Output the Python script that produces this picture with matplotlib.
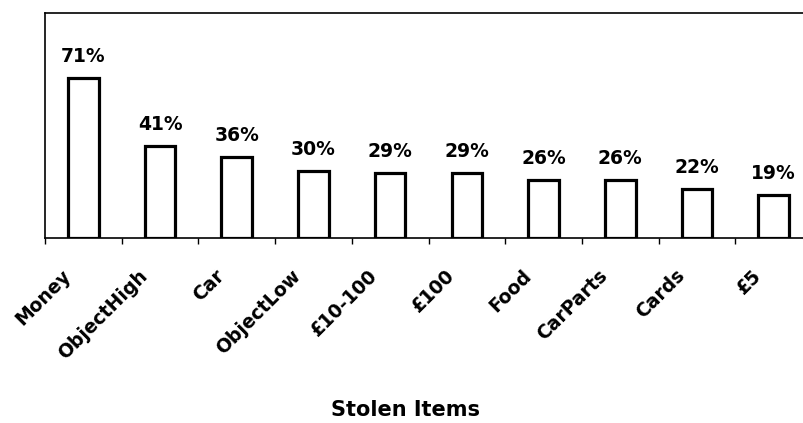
import matplotlib
matplotlib.use('Agg')
import matplotlib.pyplot as plt
import matplotlib.transforms as mtransforms
import numpy as np

# Stolen items data
items = ['Money', 'ObjectHigh', 'Car', 'ObjectLow', '£10-100', '£100',
         'Food', 'CarParts', 'Cards', '£5']
percent = [71, 41, 36, 30, 29, 29, 26, 26, 22, 19]

plt.rcParams['font.family'] = ['DejaVu Sans']
plt.rcParams['font.weight'] = 'bold'

fig = plt.figure(figsize=(8.04, 4.23), dpi=100)
ax = fig.add_axes([45/804, 1 - 238/423, 767/804, 225/423])

x = np.arange(len(items))
bars = ax.bar(x, percent, width=0.4, color='white', edgecolor='black', linewidth=2.3)

# value labels above bars
for xi, v in zip(x, percent):
    ax.annotate(f'{v}%', (xi, v), xytext=(0, 11.5), textcoords='offset points',
                ha='center', va='baseline', fontsize=13.5, fontweight='bold')

ax.set_xlim(-0.5, len(items) - 0.5)
ax.set_ylim(0, 100)

# boundary ticks only, labels drawn separately
ax.set_xticks(np.arange(len(items) + 1) - 0.5)
ax.set_xticklabels([])
ax.tick_params(axis='x', which='major', direction='out', length=4, width=1)
ax.set_yticks([])

# rotated category labels, top-right end left of the bar centre
trans = mtransforms.blended_transform_factory(ax.transData, ax.transAxes)
offset = mtransforms.ScaledTranslation(-22/100, -28/100, fig.dpi_scale_trans)
for xi, name in zip(x, items):
    ax.text(xi, 0, name, transform=trans + offset, rotation=45,
            rotation_mode='anchor', ha='right', va='top',
            fontsize=13.5, fontweight='bold', clip_on=False)

for s in ['left', 'top', 'bottom']:
    ax.spines[s].set_linewidth(1.2)
ax.spines['right'].set_visible(False)

fig.text(406/804, 1 - 410/423, 'Stolen Items', ha='center', va='center',
         fontsize=15, fontweight='bold')

fig.savefig('out.png', dpi=100)
